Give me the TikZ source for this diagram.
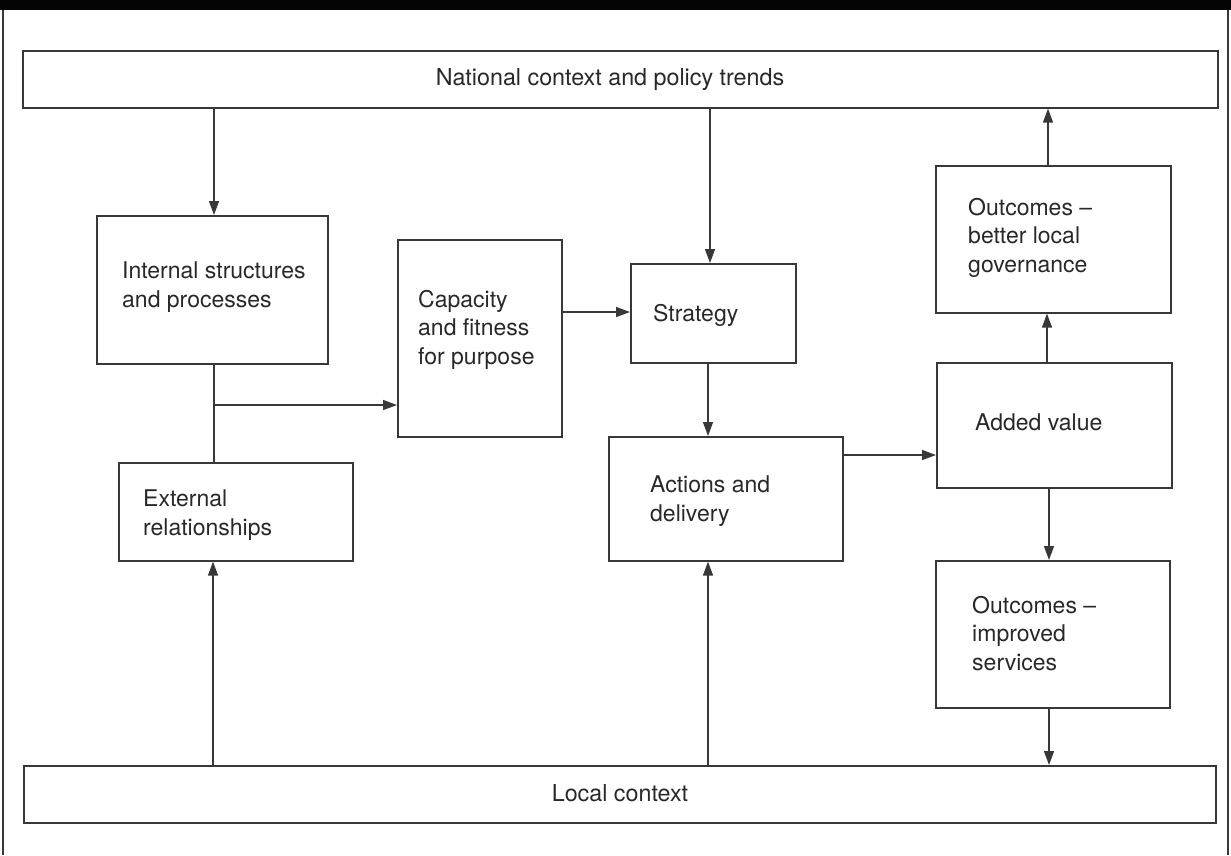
\documentclass[tikz,border=0pt]{standalone}
\usepackage{fontspec}
\setmainfont{TeX Gyre Heros}
\usetikzlibrary{arrows.meta}
\definecolor{ink}{HTML}{2A2728}
\definecolor{rule}{HTML}{3A3738}
\tikzset{
  box/.style={draw=rule, line width=1.6pt, rectangle, inner sep=0pt, anchor=north west},
  txt/.style={inner sep=0pt, anchor=north west, align=left, text=ink,
              font=\fontsize{23}{28.6}\selectfont},
  ctxt/.style={inner sep=0pt, text=ink, font=\fontsize{23.3}{28.6}\selectfont},
  link/.style={draw=rule, line width=1.4pt},
  arr/.style={link, -{Triangle[length=14pt,width=10pt]}}
}
\newcommand{\boxat}[5]{% name, x1, y1, x2, y2
  \node[box, minimum width={#4-#2}, minimum height={#5-#3}] (#1) at (#2,#3) {};}
\begin{document}
\begin{tikzpicture}[x=1pt,y=-1pt]
\useasboundingbox (0,0) rectangle (1231,855);
% frame with black title band
\fill[black!90!ink] (0,0) rectangle (1231,10);
\draw[rule, line width=1.6pt] (3,10) -- (3,855);
\draw[rule, line width=1.6pt] (1228,10) -- (1228,855);

% boxes
\boxat{top}{22}{50}{1217}{107}
\boxat{internal}{96}{215}{327}{363}
\boxat{capacity}{397}{239}{561}{436}
\boxat{strategy}{630}{263}{795}{362}
\boxat{actions}{608}{436}{842}{560}
\boxat{external}{118}{462}{352}{560}
\boxat{better}{935}{165}{1170}{312}
\boxat{added}{936}{362}{1171}{487}
\boxat{improved}{935}{560}{1169}{707}
\boxat{local}{23}{765}{1215}{822}

% labels
\node[ctxt] (ttop) at (610,80) {National context and policy trends};
\node[ctxt] (tlocal) at (620,793) {Local context};
\node[txt] (tinternal) at (122,262) {Internal structures\\and processes};
\node[txt] (tcapacity) at (418,290) {Capacity\\and fitness\\for purpose};
\node[txt] (tstrategy) at (653,304) {Strategy};
\node[txt] (tactions) at (650,476) {Actions and\\delivery};
\node[txt] (texternal) at (143,490) {External\\relationships};
\node[txt] (tbetter) at (968,198) {Outcomes --\\better local\\governance};
\node[txt] (tadded) at (975,414) {Added value};
\node[txt] (timproved) at (972,596) {Outcomes --\\improved\\services};

% branch point below the internal structures box
\coordinate (split) at (214,405);

% connectors
\draw[arr] (top.south -| 214,0) -- (internal.north -| 214,0);
\draw[link] (internal.south -| 214,0) -- (external.north -| 214,0);
\draw[arr] (split) -- (capacity.west |- split);
\draw[arr] (capacity.east |- 0,312) -- (strategy.west |- 0,312);
\draw[arr] (top.south -| 710,0) -- (strategy.north -| 710,0);
\draw[arr] (strategy.south -| 708,0) -- (actions.north -| 708,0);
\draw[arr] (actions.east |- 0,455) -- (added.west |- 0,455);
\draw[arr] (added.north -| 1047,0) -- (better.south -| 1047,0);
\draw[arr] (better.north -| 1048,0) -- (top.south -| 1048,0);
\draw[arr] (added.south -| 1049,0) -- (improved.north -| 1049,0);
\draw[arr] (improved.south -| 1049,0) -- (local.north -| 1049,0);
\draw[arr] (local.north -| 213,0) -- (external.south -| 213,0);
\draw[arr] (local.north -| 708,0) -- (actions.south -| 708,0);
\end{tikzpicture}
\end{document}
